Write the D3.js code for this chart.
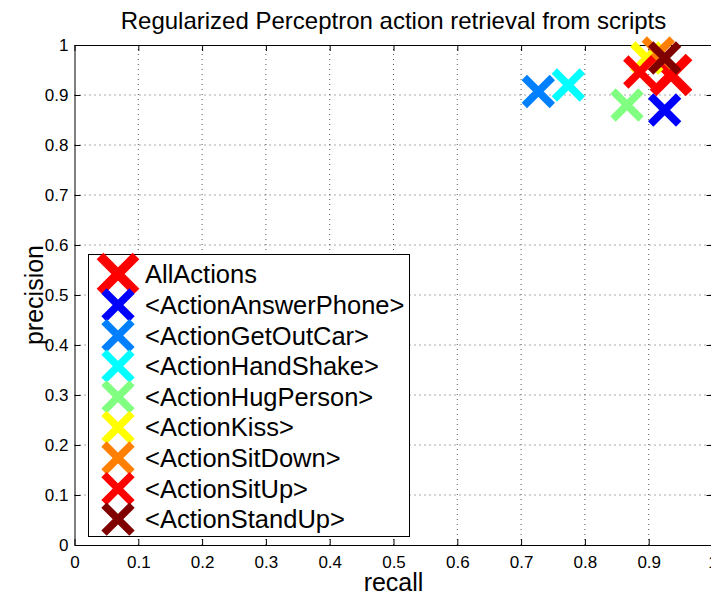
<!DOCTYPE html>
<html>
<head>
<meta charset="utf-8">
<script src="https://cdn.jsdelivr.net/npm/d3@7"></script>
<style>
	body { margin: 0; background: #fff; }
	svg { display: block; font-family: "Liberation Sans", Arial, sans-serif; }
</style>
</head>
<body>
<div id="graph"></div>
<script>
// one entry per series, in legend order
var names = ["AllActions", "<ActionAnswerPhone>", "<ActionGetOutCar>", "<ActionHandShake>",
	"<ActionHugPerson>", "<ActionKiss>", "<ActionSitDown>", "<ActionSitUp>", "<ActionStandUp>"];
var recall = [0.935, 0.925, 0.727, 0.774, 0.866, 0.897, 0.915, 0.886, 0.925];
var precision = [0.940, 0.870, 0.907, 0.920, 0.880, 0.974, 0.984, 0.946, 0.974];
var colors = ["#ff0000", "#0000ff", "#0080ff", "#00ffff", "#80ff80", "#ffff00", "#ff8000", "#ff0000", "#800000"];
var tickValues = [0, 0.1, 0.2, 0.3, 0.4, 0.5, 0.6, 0.7, 0.8, 0.9, 1];

var width = 711;
var height = 595;

var xScale = d3.scaleLinear().domain([0, 1]).range([74.5, 712.5]);
var yScale = d3.scaleLinear().domain([0, 1]).range([545, 45]);

function fmt(d) {
	if (d == 0) return "0";
	if (d == 1) return "1";
	return d.toFixed(1);
}

var chart = d3.select("#graph")
	.append("svg")
	.attr("width", width)
	.attr("height", height);

chart.append("rect").attr("width", width).attr("height", height).attr("fill", "#fff");

// dotted grid
var inner = tickValues.slice(1, -1);
chart.append("g").selectAll("line.gx")
	.data(inner).enter().append("line")
	.attr("x1", function (d) { return xScale(d); })
	.attr("x2", function (d) { return xScale(d); })
	.attr("y1", yScale(0)).attr("y2", yScale(1))
	.attr("stroke", "#555").attr("stroke-dasharray", "1,4");
chart.append("g").selectAll("line.gy")
	.data(inner).enter().append("line")
	.attr("y1", function (d) { return yScale(d); })
	.attr("y2", function (d) { return yScale(d); })
	.attr("x1", xScale(0)).attr("x2", xScale(1))
	.attr("stroke", "#555").attr("stroke-dasharray", "1,4");

// axes box, ticks pointing inward
var xAxis = d3.axisBottom(xScale).tickValues(tickValues).tickFormat(fmt).tickSize(-6).tickSizeOuter(0).tickPadding(11);
var yAxis = d3.axisLeft(yScale).tickValues(tickValues).tickFormat(fmt).tickSize(-6).tickSizeOuter(0).tickPadding(6);
var xTop = d3.axisTop(xScale).tickValues(tickValues).tickFormat("").tickSize(-6).tickSizeOuter(0);
var yRight = d3.axisRight(yScale).tickValues(tickValues).tickFormat("").tickSize(-6).tickSizeOuter(0);

chart.append("g").attr("transform", "translate(0," + yScale(0) + ")").call(xAxis);
chart.append("g").attr("transform", "translate(" + xScale(0) + ",0)").call(yAxis);
chart.append("g").attr("transform", "translate(0," + yScale(1) + ")").call(xTop);
chart.append("g").attr("transform", "translate(" + xScale(1) + ",0)").call(yRight);

chart.selectAll(".tick text").style("font-size", "17px").style("font-family", "'Liberation Sans', Arial, sans-serif").attr("fill", "#000");
chart.selectAll(".domain, .tick line").attr("stroke", "#000");

// titles
chart.append("text")
	.attr("x", (xScale(0) + xScale(1)) / 2).attr("y", 29)
	.attr("text-anchor", "middle").style("font-size", "24px")
	.text("Regularized Perceptron action retrieval from scripts");
chart.append("text")
	.attr("x", (xScale(0) + xScale(1)) / 2).attr("y", 591)
	.attr("text-anchor", "middle").style("font-size", "25px")
	.text("recall");
chart.append("text")
	.attr("transform", "translate(43," + yScale(0.5) + ") rotate(-90)")
	.attr("text-anchor", "middle").style("font-size", "25px")
	.text("precision");

function cross(g, h, sw, color) {
	g.append("path")
		.attr("d", "M" + (-h) + "," + (-h) + "L" + h + "," + h + "M" + (-h) + "," + h + "L" + h + "," + (-h))
		.attr("fill", "none").attr("stroke", color)
		.attr("stroke-width", sw).attr("stroke-linecap", "butt");
}

// points
names.forEach(function (n, i) {
	var g = chart.append("g")
		.attr("transform", "translate(" + xScale(recall[i]) + "," + yScale(precision[i]) + ")");
	if (i == 0) cross(g, 18, 9.5, colors[i]);
	else cross(g, 14, 7.5, colors[i]);
});

// legend
var legend = chart.append("g");
legend.append("rect")
	.attr("x", 88.5).attr("y", 254.5).attr("width", 321).attr("height", 282)
	.attr("fill", "#fff").attr("stroke", "#000");
names.forEach(function (n, i) {
	var cy = i == 0 ? 274 : 305 + (i - 1) * 30.6;
	var g = legend.append("g").attr("transform", "translate(118," + cy + ")");
	if (i == 0) cross(g, 18, 9.5, colors[i]);
	else cross(g, 14, 7.5, colors[i]);
	legend.append("text")
		.attr("x", 145).attr("y", cy + 9)
		.style("font-size", "25.5px")
		.text(n);
});
</script>
</body>
</html>
